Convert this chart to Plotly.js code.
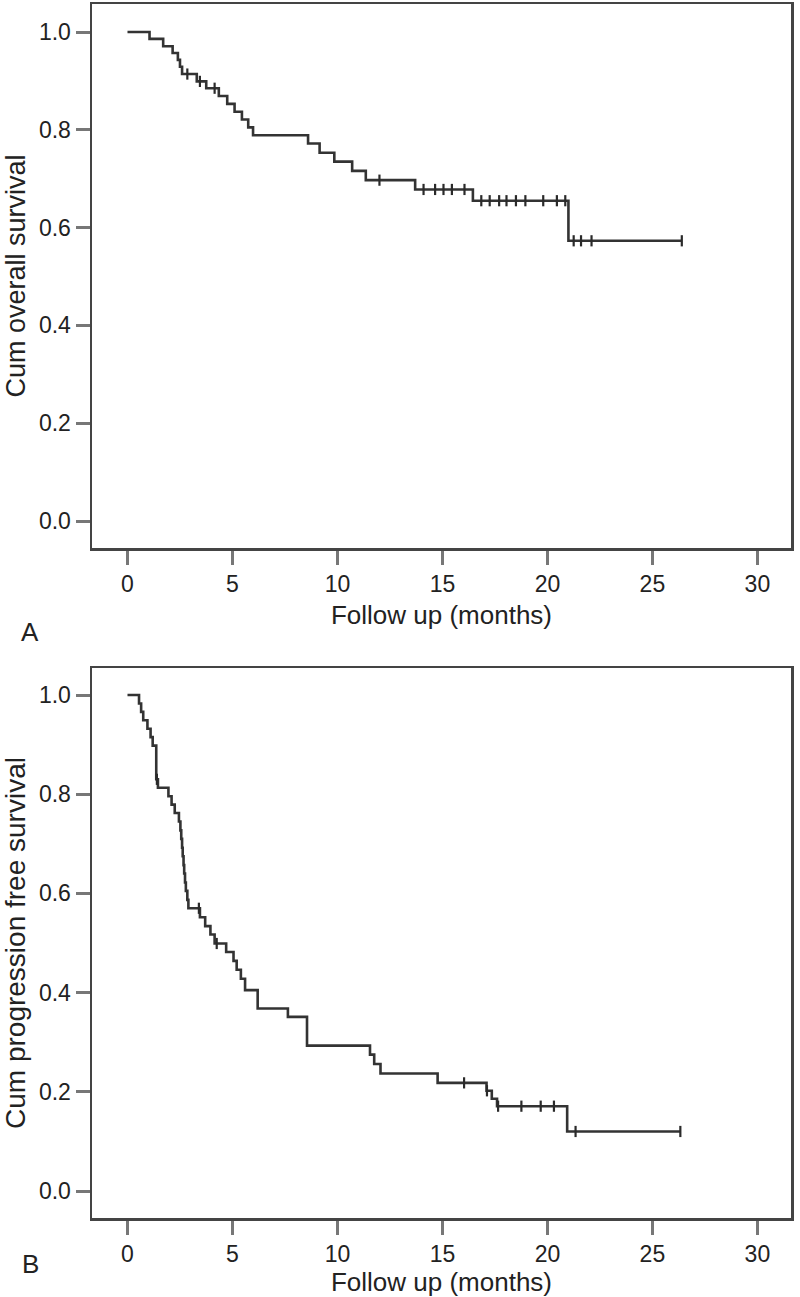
<!DOCTYPE html>
<html>
<head>
<meta charset="utf-8">
<script src="https://cdn.plot.ly/plotly-3.0.1.min.js"></script>
<style>html,body{margin:0;padding:0;background:#fff;}#chart{width:800px;height:1297px;}</style>
</head>
<body>
<div id="chart"></div>
<script>
// Panel A: overall survival (event times in months, survival after each event)
const timesA = [1.05, 1.7, 2.15, 2.4, 2.5, 2.6, 3.3, 3.75, 4.35, 4.75, 5.1, 5.45, 5.75, 5.98, 8.6, 9.15, 9.85, 10.7, 11.35, 13.7, 16.45, 21.0];
const survA  = [0.986, 0.971, 0.957, 0.943, 0.929, 0.914, 0.899, 0.885, 0.869, 0.853, 0.837, 0.821, 0.805, 0.789, 0.772, 0.753, 0.735, 0.716, 0.697, 0.678, 0.655, 0.573];
const censorA = [2.85, 3.45, 4.15, 12.0, 14.1, 14.65, 15.05, 15.45, 16.05, 16.85, 17.25, 17.7, 18.05, 18.5, 18.95, 19.8, 20.45, 20.85, 21.25, 21.6, 22.1, 26.4];

// Panel B: progression free survival
const timesB = [0.55, 0.65, 0.75, 0.95, 1.1, 1.2, 1.37, 1.45, 1.95, 2.1, 2.25, 2.45, 2.52, 2.56, 2.6, 2.63, 2.67, 2.7, 2.74, 2.78, 2.85, 2.9, 3.45, 3.7, 3.95, 4.15, 4.7, 5.05, 5.2, 5.4, 5.6, 6.2, 7.64, 8.55, 11.55, 11.75, 12.05, 14.77, 17.1, 17.35, 17.6, 20.94];
const survB  = [0.983, 0.966, 0.949, 0.932, 0.915, 0.898, 0.830, 0.813, 0.796, 0.779, 0.762, 0.745, 0.727, 0.710, 0.692, 0.675, 0.657, 0.640, 0.622, 0.605, 0.587, 0.570, 0.552, 0.534, 0.517, 0.499, 0.482, 0.464, 0.446, 0.428, 0.405, 0.368, 0.351, 0.293, 0.275, 0.256, 0.237, 0.218, 0.202, 0.186, 0.171, 0.120];
const censorB = [1.4, 3.4, 4.25, 16.03, 17.12, 17.65, 18.76, 19.68, 20.31, 21.34, 26.33];

const xTicks = [0, 5, 10, 15, 20, 25, 30];
const yTicks = [0, 0.2, 0.4, 0.6, 0.8, 1.0];
const xTitle = 'Follow up (months)';
const yTitleA = 'Cum overall survival';
const yTitleB = 'Cum progression free survival';

function stepAt(times, surv, t) {
  let s = 1;
  for (let i = 0; i < times.length; i++) { if (times[i] <= t) s = surv[i]; }
  return s;
}
function curve(times, surv, censor, xa, ya) {
  const end = Math.max(...censor, ...times);
  const x = [0].concat(times, [end]);
  const y = [1].concat(surv, [surv[surv.length - 1]]);
  return [
    {x: x, y: y, xaxis: xa, yaxis: ya, mode: 'lines', line: {shape: 'hv', color: '#333', width: 2.6}, hoverinfo: 'skip', showlegend: false},
    {x: censor, y: censor.map(t => stepAt(times, surv, t)), xaxis: xa, yaxis: ya, mode: 'markers',
     marker: {symbol: 'line-ns-open', size: 8, color: '#2a2a2a', line: {color: '#2a2a2a', width: 2.2}}, hoverinfo: 'skip', showlegend: false}
  ];
}

const fontFam = '"Liberation Sans", Arial, Helvetica, sans-serif';
const W = 800, H = 1297;
function xAxis(anchor) {
  return {domain: [92 / W, 791 / W], range: [-1.69, 31.6], anchor: anchor,
    showline: true, mirror: true, linecolor: '#444', linewidth: 2.5,
    ticks: 'outside', ticklen: 14, tickwidth: 3, tickcolor: '#777',
    tickvals: xTicks, ticktext: xTicks.map(String),
    tickfont: {family: fontFam, size: 23, color: '#222'},
    showgrid: false, zeroline: false,
    title: {text: xTitle, font: {family: fontFam, size: 26, color: '#222'}, standoff: 10}};
}
function yAxis(anchor, topPx, botPx, yTitle, tsize, r0, r1) {
  return {domain: [(H - botPx) / H, (H - topPx) / H], range: [r0, r1], anchor: anchor,
    showline: true, mirror: true, linecolor: '#444', linewidth: 2.5,
    ticks: 'outside', ticklen: 14, tickwidth: 3, tickcolor: '#777',
    tickvals: yTicks, ticktext: yTicks.map(v => v.toFixed(1)),
    tickfont: {family: fontFam, size: 23, color: '#222'},
    showgrid: false, zeroline: false,
    title: {text: yTitle, font: {family: fontFam, size: tsize, color: '#222'}, standoff: 6}};
}

const data = [].concat(curve(timesA, survA, censorA, 'x', 'y'), curve(timesB, survB, censorB, 'x2', 'y2'));

const layout = {
  width: W, height: H,
  margin: {l: 0, r: 0, t: 0, b: 0},
  paper_bgcolor: '#fff', plot_bgcolor: '#fff',
  font: {family: fontFam, color: '#222'},
  xaxis: xAxis('y'),
  yaxis: yAxis('x', 4, 548, yTitleA, 27, -27 / 489, 1 + 28 / 489),
  xaxis2: xAxis('y2'),
  yaxis2: yAxis('x2', 668, 1218, yTitleB, 28, -27 / 496, 1 + 27 / 496),
  annotations: [
    {text: 'A', xref: 'paper', yref: 'paper', x: 30 / W, y: (H - 632) / H, xanchor: 'center', yanchor: 'middle', showarrow: false, font: {family: fontFam, size: 26, color: '#222'}},
    {text: 'B', xref: 'paper', yref: 'paper', x: 30 / W, y: (H - 1264) / H, xanchor: 'center', yanchor: 'middle', showarrow: false, font: {family: fontFam, size: 26, color: '#222'}}
  ]
};

Plotly.newPlot('chart', data, layout, {staticPlot: true, displayModeBar: false});
</script>
</body>
</html>
